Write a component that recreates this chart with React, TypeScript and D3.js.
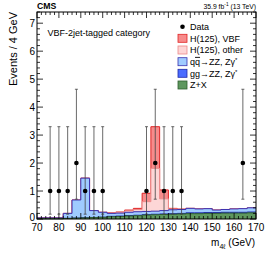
import * as d3 from "d3";

// 4 GeV bins, lower edges
const BIN_LOW = [70, 74, 78, 82, 86, 90, 94, 98, 102, 106, 110, 114, 118, 122, 126, 130, 134, 138, 142, 146, 150, 154, 158, 162, 166];
const BIN_WIDTH = 4;

// stacked expectations per bin (events / 4 GeV)
const ZX = [0.01, 0.01, 0.01, 0.02, 0.03, 0.04, 0.05, 0.06, 0.08, 0.09, 0.11, 0.12, 0.14, 0.15, 0.16, 0.17, 0.18, 0.19, 0.19, 0.2, 0.2, 0.21, 0.21, 0.21, 0.22];
const GG_ZZ = [0.005, 0.005, 0.005, 0.005, 0.005, 0.005, 0.005, 0.005, 0.015, 0.015, 0.015, 0.015, 0.015, 0.02, 0.02, 0.02, 0.02, 0.03, 0.03, 0.03, 0.03, 0.03, 0.03, 0.03, 0.03];
const QQ_ZZ = [0.025, 0.025, 0.025, 0.175, 0.645, 1.415, 0.245, 0.175, 0.105, 0.105, 0.115, 0.125, 0.115, 0.11, 0.12, 0.14, 0.14, 0.16, 0.14, 0.14, 0.09, 0.1, 0.12, 0.13, 0.15];
const H_OTHER = [0, 0, 0, 0, 0, 0, 0, 0, 0.015, 0.03, 0.05, 0.08, 0.35, 1.53, 0.42, 0.03, 0.01, 0, 0, 0, 0, 0, 0, 0, 0];
const H_VBF = [0, 0, 0, 0, 0, 0, 0, 0, 0.005, 0.01, 0.03, 0.04, 0.3, 1.49, 0.32, 0.02, 0.005, 0, 0, 0, 0, 0, 0, 0, 0];

// observed events
const DATA_MASS = [76, 80, 84, 88, 92, 96, 100, 120, 124, 128, 132, 136, 164];
const DATA_N = [1, 1, 1, 2, 1, 1, 1, 1, 2, 1, 1, 1, 2];
const DATA_LO = [0.173, 0.173, 0.173, 0.708, 0.173, 0.173, 0.173, 0.173, 0.708, 0.173, 0.173, 0.173, 0.708];
const DATA_HI = [3.3, 3.3, 3.3, 4.638, 3.3, 3.3, 3.3, 3.3, 4.638, 3.3, 3.3, 3.3, 4.638];

const X_TICKS = [70, 80, 90, 100, 110, 120, 130, 140, 150, 160, 170];
const Y_TICKS = [0, 1, 2, 3, 4, 5, 6, 7];

const KEYS = ["zx", "gg", "qq", "hOther", "hVbf"] as const;
const STYLE: Record<string, { fill: string; line: string; label: string }> = {
  hVbf: { fill: "#f78b8b", line: "#e02525", label: "H(125), VBF" },
  hOther: { fill: "#fdd6d6", line: "#ec8a8a", label: "H(125), other" },
  qq: { fill: "#9fcbff", line: "#3b32b0", label: "qq" },
  gg: { fill: "#4a6cff", line: "#1e2aa8", label: "gg" },
  zx: { fill: "#5e975e", line: "#2f5f2f", label: "Z+X" },
};

const FONT = "'Liberation Sans', Arial, Helvetica, sans-serif";

export default function App() {
  const W = 266;
  const H = 253;
  const m = { left: 37, right: 256, top: 12, bottom: 219 };

  const x = d3.scaleLinear().domain([70, 170]).range([m.left, m.right]);
  const y = d3.scaleLinear().domain([0, 7.4]).range([m.bottom, m.top]);

  const rows = BIN_LOW.map((lo, i) => ({
    lo,
    zx: ZX[i],
    gg: GG_ZZ[i],
    qq: QQ_ZZ[i],
    hOther: H_OTHER[i],
    hVbf: H_VBF[i],
  }));
  // repeat last bin at the upper edge so the step closes at 170
  const last = rows[rows.length - 1];
  const rowsClosed = [...rows, { ...last, lo: last.lo + BIN_WIDTH }];

  const stack = d3.stack<any>().keys(KEYS as unknown as string[]);
  const series = stack(rowsClosed);

  const area = d3
    .area<any>()
    .curve(d3.curveStepAfter)
    .x((d) => x(d.data.lo))
    .y0(y(0))
    .y1((d) => y(d[1]));
  const line = d3
    .line<any>()
    .curve(d3.curveStepAfter)
    .x((d) => x(d.data.lo))
    .y((d) => y(d[1]));

  const xMinor = d3.range(70, 170.01, 2);
  const yMinor = d3.range(0, 7.41, 0.2);

  const legendRows = [
    { key: "data", y: 26.7 },
    { key: "hVbf", y: 38.3 },
    { key: "hOther", y: 50 },
    { key: "qq", y: 61.7 },
    { key: "gg", y: 73.3 },
    { key: "zx", y: 85 },
  ];

  const legendLabel = (key: string) => {
    if (key === "data") return "Data";
    if (key === "qq")
      return (
        <>
          q<tspan textDecoration="overline">q</tspan>→ZZ, Zγ
          <tspan dy={-3} fontSize={6}>*</tspan>
        </>
      );
    if (key === "gg")
      return (
        <>
          gg→ZZ, Zγ<tspan dy={-3} fontSize={6}>*</tspan>
        </>
      );
    return STYLE[key].label;
  };

  return (
    <div style={{ position: "fixed", left: 0, top: 0, background: "#fff" }}>
      <svg width={W} height={H} fontFamily={FONT} style={{ display: "block" }}>
        <rect width={W} height={H} fill="#fff" />

        {/* stacked histograms, sum first, lower layers on top */}
        {[...series].reverse().map((s) => (
          <g key={s.key}>
            <path d={area(s) ?? ""} fill={STYLE[s.key].fill} />
            <path d={line(s) ?? ""} fill="none" stroke={STYLE[s.key].line} strokeWidth={1} />
          </g>
        ))}

        {/* axes ticks */}
        {xMinor.map((v) => {
          const major = X_TICKS.includes(Math.round(v));
          const len = major ? 6 : 3;
          return (
            <g key={`xt${v}`} stroke="#000" strokeWidth={0.8}>
              <line x1={x(v)} x2={x(v)} y1={m.bottom} y2={m.bottom - len} />
              <line x1={x(v)} x2={x(v)} y1={m.top} y2={m.top + len} />
            </g>
          );
        })}
        {yMinor.map((v) => {
          const major = Math.abs(v - Math.round(v)) < 1e-6;
          const len = major ? 6 : 3;
          return (
            <g key={`yt${v}`} stroke="#000" strokeWidth={0.8}>
              <line x1={m.left} x2={m.left + len} y1={y(v)} y2={y(v)} />
              <line x1={m.right} x2={m.right - len} y1={y(v)} y2={y(v)} />
            </g>
          );
        })}
        <rect
          x={m.left}
          y={m.top}
          width={m.right - m.left}
          height={m.bottom - m.top}
          fill="none"
          stroke="#000"
          strokeWidth={1}
        />

        {X_TICKS.map((v) => (
          <text key={`xl${v}`} x={x(v)} y={230.5} fontSize={10} textAnchor="middle" fill="#000">
            {v}
          </text>
        ))}
        {Y_TICKS.map((v) => (
          <text
            key={`yl${v}`}
            x={35}
            y={y(v) + (v === 0 ? 1.6 : 3.6)}
            fontSize={10}
            textAnchor="end"
            fill="#000"
          >
            {v}
          </text>
        ))}

        {/* data with Poisson intervals */}
        {DATA_MASS.map((mass, i) => {
          const cx = x(mass);
          return (
            <g key={`d${i}`}>
              <line x1={cx} x2={cx} y1={y(DATA_LO[i])} y2={y(DATA_HI[i])} stroke="#444" strokeWidth={0.8} />
              <line x1={cx - 1.5} x2={cx + 1.5} y1={y(DATA_HI[i])} y2={y(DATA_HI[i])} stroke="#444" strokeWidth={0.8} />
              <line x1={cx - 1.5} x2={cx + 1.5} y1={y(DATA_LO[i])} y2={y(DATA_LO[i])} stroke="#444" strokeWidth={0.8} />
              <circle cx={cx} cy={y(DATA_N[i])} r={2.3} fill="#000" />
            </g>
          );
        })}

        {/* labels */}
        <text x={m.left} y={9.3} fontSize={8.7} fontWeight="bold" fill="#000">
          CMS
        </text>
        <text x={m.right} y={8.6} fontSize={6.8} textAnchor="end" fill="#000">
          35.9 fb<tspan dy={-2.5} fontSize={4.8}>-1</tspan>
          <tspan dy={2.5}> (13 TeV)</tspan>
        </text>
        <text x={47.5} y={35.5} fontSize={9} fill="#000">
          VBF-2jet-tagged category
        </text>
        <text
          transform={`translate(16.5, 12) rotate(-90)`}
          fontSize={11}
          textAnchor="end"
          fill="#000"
        >
          Events / 4 GeV
        </text>
        <text x={m.right - 1} y={246} fontSize={10} textAnchor="end" fill="#000">
          m<tspan dy={2.5} fontSize={7}>4ℓ</tspan>
          <tspan dy={-2.5}> (GeV)</tspan>
        </text>

        {/* legend */}
        {legendRows.map((r) => (
          <g key={`lg${r.key}`}>
            {r.key === "data" ? (
              <circle cx={182.5} cy={r.y} r={2.3} fill="#000" />
            ) : (
              <rect
                x={178}
                y={r.y - 4}
                width={9}
                height={8}
                fill={STYLE[r.key].fill}
                stroke={STYLE[r.key].line}
                strokeWidth={0.8}
              />
            )}
            <text x={190} y={r.y + 3.2} fontSize={9} fill="#000">
              {legendLabel(r.key)}
            </text>
          </g>
        ))}
      </svg>
    </div>
  );
}
